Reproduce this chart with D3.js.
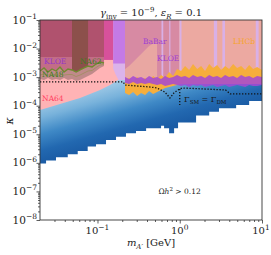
<!DOCTYPE html>
<html>
<head>
<meta charset="utf-8">
<script src="https://cdn.jsdelivr.net/npm/d3@7"></script>
<style>
  body { margin: 0; background: #fff; }
  text { font-family: "DejaVu Serif", serif; }
</style>
</head>
<body>
<svg id="chart" width="271" height="255"></svg>
<script>
// ---- data (mass in GeV, kappa) ----
const kTop = 0.1;

// relic region: lower edge is a staircase, upper edge hidden under the limits
const relicMass  = [0.02, 0.0237, 0.0313, 0.0435, 0.0575, 0.076, 0.096, 0.127, 0.168, 0.222, 0.294, 0.39, 0.593, 0.645, 0.742, 0.854, 0.954, 1.58, 2.28, 3.0, 4.85, 6.98, 10];
const relicFloor = [9.5e-7, 1.2e-6, 1.56e-6, 2.0e-6, 2.6e-6, 3.7e-6, 4.5e-6, 6.3e-6, 8.2e-6, 1.08e-5, 1.3e-5, 1.62e-5, 2.0e-5, 1.62e-5, 1.08e-5, 1.62e-5, 2.6e-5, 4.5e-5, 6.2e-5, 8.1e-5, 1.06e-4, 1.46e-4, 1.46e-4];
const relicCeil  = 1e-3;

// NA64 lower bound
const na64Mass  = [0.02, 0.0265, 0.035, 0.0463, 0.0613, 0.0811, 0.1074, 0.142, 0.178, 0.2];
const na64Bound = [7.1e-5, 9.0e-5, 1.15e-4, 1.46e-4, 1.86e-4, 2.57e-4, 3.55e-4, 5.3e-4, 7.9e-4, 9.3e-4];

// NA48 / NA62 noisy edge (low masses)
const leftMass   = [0.02, 0.0224, 0.025, 0.028, 0.0313, 0.035, 0.0392, 0.0438, 0.049, 0.0549, 0.0614, 0.0686, 0.0768, 0.0859, 0.0961, 0.1075, 0.12];
const oliveTop   = [1.64e-3, 2.09e-3, 1.51e-3, 1.93e-3, 1.64e-3, 2.26e-3, 1.51e-3, 1.93e-3, 1.78e-3, 1.51e-3, 1.78e-3, 2.09e-3, 2.45e-3, 2.26e-3, 2.88e-3, 3.39e-3, 3.13e-3];
const oliveBot   = [8.6e-4, 7.9e-4, 9.3e-4, 7.9e-4, 8.6e-4, 7.9e-4, 9.3e-4, 7.9e-4, 8.6e-4, 7.3e-4, 7.9e-4, 9.3e-4, 1.1e-3, 1.29e-3, 1.64e-3, 2.09e-3, 2.45e-3];
const kloeFloor  = 5.1e-3;
const na62Range  = [8, 13];

// columns in the 0.1 - 0.2 GeV window
const pinkCol    = [0.12, 0.155];
const pinkFloor  = 4.0e-3;
const violetCol  = [0.155, 0.216];
const violetFloor = 3.0e-3;
const lavender   = [[0.155, 3.4e-3], [0.216, 3.4e-3], [0.216, 8.0e-4], [0.18, 8.0e-4], [0.165, 1.3e-3], [0.155, 2.0e-3]];

// BaBar curve
const babarMass  = [0.216, 0.242, 0.271, 0.303, 0.339, 0.379, 0.424, 0.474, 0.53];
const babarBound = [1.93e-3, 2.45e-3, 3.39e-3, 4.7e-3, 6.4e-3, 8.9e-3, 1.23e-2, 1.5e-2, 1.57e-2];
const limitFloor = 7.9e-4;
const lhcbGaps   = [[0.6, 0.63], [0.745, 0.77], [1.0, 1.05], [2.6, 2.85], [3.3, 3.55], [8.4, 9.1]];

// noisy LHCb / KLOE edges above the relic region
const rightMass  = [0.216, 0.242, 0.271, 0.303, 0.339, 0.379, 0.424, 0.474, 0.53, 0.593, 0.663, 0.742, 0.83, 0.928, 1.04, 1.16, 1.3, 1.45, 1.63, 1.82, 2.03, 2.28, 2.54, 2.85, 3.18, 3.56, 3.98, 4.46, 4.98, 5.58, 6.24, 6.98, 7.8, 8.73, 10];
const orangeTop  = [7.9e-4, 9.3e-4, 7.3e-4, 1.01e-3, 7.9e-4, 9.3e-4, 6.8e-4, 1.1e-3, 8.6e-4, 1.19e-3, 9.3e-4, 1.51e-3, 1.1e-3, 1.93e-3, 1.64e-3, 2.45e-3, 1.78e-3, 2.88e-3, 1.93e-3, 2.45e-3, 1.64e-3, 2.88e-3, 2.09e-3, 2.66e-3, 1.78e-3, 2.45e-3, 1.93e-3, 2.88e-3, 2.09e-3, 2.45e-3, 1.78e-3, 2.66e-3, 1.93e-3, 2.26e-3, 1.78e-3];
const orangeBot  = [2.79e-4, 2.37e-4, 3.02e-4, 2.19e-4, 2.79e-4, 2.37e-4, 3.27e-4, 2.57e-4, 3.02e-4, 3.55e-4, 4.17e-4, 4.5e-4, 4.9e-4, 5.3e-4, 5.75e-4, 5.75e-4, 5.75e-4, 5.75e-4, 5.75e-4, 5.75e-4, 5.75e-4, 5.75e-4, 5.75e-4, 5.75e-4, 5.75e-4, 5.75e-4, 5.75e-4, 5.75e-4, 5.75e-4, 5.75e-4, 5.75e-4, 5.75e-4, 5.75e-4, 5.75e-4, 5.75e-4];
const purpleTop  = [1.01e-3, 8.6e-4, 1.1e-3, 9.3e-4, 1.01e-3, 8.6e-4, 1.1e-3, 9.3e-4, 1.01e-3, 8.6e-4, 1.1e-3, 9.3e-4, 1.01e-3, 1.19e-3, 1.01e-3, 1.1e-3, 9.3e-4, 1.19e-3, 1.01e-3, 1.1e-3, 9.3e-4, 1.19e-3, 1.01e-3, 1.1e-3, 9.3e-4, 1.19e-3, 1.01e-3, 1.1e-3, 9.3e-4, 1.19e-3, 1.01e-3, 1.1e-3, 9.3e-4, 1.1e-3, 1.01e-3];
const purpleBot  = [6.2e-4, 5.75e-4, 6.8e-4, 5.75e-4, 6.2e-4, 5.75e-4, 6.2e-4, 5.75e-4, 5.3e-4, 5.75e-4, 4.9e-4, 5.3e-4, 5.75e-4, 5.3e-4, 4.9e-4, 5.3e-4, 4.5e-4, 5.3e-4, 4.9e-4, 5.3e-4, 4.5e-4, 4.9e-4, 5.3e-4, 4.5e-4, 4.9e-4, 5.3e-4, 4.5e-4, 4.9e-4, 5.3e-4, 4.9e-4, 4.5e-4, 5.3e-4, 4.9e-4, 4.9e-4, 5.3e-4];

// Gamma_SM = Gamma_DM line
const gammaMass  = [0.02, 0.205, 0.216, 0.44, 0.53, 0.66, 0.76, 0.85, 0.95, 1.07, 2.0, 3.6, 4.1, 10];
const gammaKappa = [6.8e-4, 6.8e-4, 5.3e-4, 4.5e-4, 4.17e-4, 3.0e-4, 1.86e-4, 2.8e-4, 3.55e-4, 4.17e-4, 3.85e-4, 3.55e-4, 2.6e-4, 2.6e-4];
const gammaDrop  = [[1.0, 3.85e-4], [1.0, 1.06e-4]];

const yTickExps = [-8, -7, -6, -5, -4, -3, -2, -1];
const xTickExps = [-1, 0, 1];

const labels = [
  { text: "KLOE",  m: 0.0224, k: 3.0e-3,  color: "#9437c9" },
  { text: "NA62",  m: 0.0613, k: 3.0e-3,  color: "#3c7d20" },
  { text: "NA48",  m: 0.0212, k: 1.05e-3, color: "#3c7d20" },
  { text: "NA64",  m: 0.0212, k: 1.41e-4, color: "#ff3d5f" },
  { text: "BaBar", m: 0.357,  k: 1.5e-2,  color: "#9d3fd2" },
  { text: "KLOE",  m: 0.53,   k: 3.8e-3,  color: "#9d3fd2" },
  { text: "LHCb",  m: 4.44,   k: 1.5e-2,  color: "#f7a52c" }
];

// ---- chart ----
const svg = d3.select("#chart");
const x = d3.scaleLog().domain([0.02, 10]).range([40, 262]);
const y = d3.scaleLog().domain([1e-8, 1e-1]).range([220, 20]);

const at = (v, i) => Array.isArray(v) ? v[i] : v;
const band = (ms, upper, lower, curve) => d3.area()
  .curve(curve || d3.curveLinear)
  .x(m => x(m))
  .y0((m, i) => y(at(lower, i)))
  .y1((m, i) => y(at(upper, i)))(ms);
const edge = d3.line().x(d => x(d[0])).y(d => y(d[1]));

const defs = svg.append("defs");
defs.append("clipPath").attr("id", "plot-clip")
  .append("rect")
  .attr("x", x.range()[0]).attr("y", y.range()[1])
  .attr("width", x.range()[1] - x.range()[0])
  .attr("height", y.range()[0] - y.range()[1]);

// gradient runs perpendicular to the staircase edge
const p0 = [x(relicMass[0]), y(relicFloor[0])];
const p1 = [x(relicMass[relicMass.length - 1]), y(relicFloor[relicFloor.length - 1])];
const len = Math.hypot(p1[0] - p0[0], p1[1] - p0[1]);
const nrm = [(p1[1] - p0[1]) / len, -(p1[0] - p0[0]) / len];
const grad = defs.append("linearGradient").attr("id", "relic")
  .attr("gradientUnits", "userSpaceOnUse")
  .attr("x1", p0[0]).attr("y1", p0[1])
  .attr("x2", p0[0] + nrm[0] * 80).attr("y2", p0[1] + nrm[1] * 80);
[[0, "#1b5ca5"], [0.15, "#2268b0"], [0.35, "#3f89c6"], [0.55, "#78b2db"], [0.75, "#a5cde8"], [1, "#c6e0f1"]]
  .forEach(s => grad.append("stop").attr("offset", s[0]).attr("stop-color", s[1]));

const plot = svg.append("g").attr("clip-path", "url(#plot-clip)");

plot.append("path").attr("d", band(relicMass, relicCeil, relicFloor, d3.curveStepAfter)).attr("fill", "url(#relic)");
plot.append("path").attr("d", band(na64Mass, kTop, na64Bound)).attr("fill", "#ffb3b5");
plot.append("path").attr("d", band(leftMass, kTop, oliveTop)).attr("fill", "#c26d86");
plot.append("path").attr("d", band([0.02, 0.12], kTop, kloeFloor)).attr("fill", "#b0526e");
plot.append("path")
  .attr("d", band(leftMass.slice(...na62Range), kTop, oliveTop.slice(...na62Range)))
  .attr("fill", "#8c504b");
plot.append("path").attr("d", band(leftMass, oliveTop, oliveBot)).attr("fill", "#c08a8a");
plot.append("path")
  .attr("d", edge(leftMass.map((m, i) => [m, oliveTop[i]])))
  .attr("fill", "none").attr("stroke", "#6f8a2e").attr("stroke-width", 1.4);
plot.append("path")
  .attr("d", edge(leftMass.map((m, i) => [m, Math.sqrt(oliveTop[i] * oliveBot[i])])))
  .attr("fill", "none").attr("stroke", "#8f8f4a").attr("stroke-width", 0.8).attr("opacity", 0.7);
plot.append("path").attr("d", band(pinkCol, kTop, pinkFloor)).attr("fill", "#d7519b");
plot.append("path")
  .attr("d", edge(lavender) + "Z")
  .attr("fill", "#dbb3ea");
plot.append("path").attr("d", band(violetCol, kTop, violetFloor)).attr("fill", "#c47ae6");
plot.append("path").attr("d", band([0.216, 1.0], kTop, limitFloor)).attr("fill", "#d78aa3");
plot.append("path").attr("d", band(babarMass, babarBound, limitFloor)).attr("fill", "#e9a7a2");
plot.append("path").attr("d", band([1.0, 10], kTop, limitFloor)).attr("fill", "#eca9a1");
plot.selectAll(".gap").data(lhcbGaps).join("path")
  .attr("d", g => band(g, kTop, limitFloor))
  .attr("fill", "#d9b0e6");
plot.append("path").attr("d", band(rightMass, orangeTop, orangeBot)).attr("fill", "#f6ae3c");
plot.append("path").attr("d", band(rightMass, purpleTop, purpleBot))
  .attr("fill", "#a548d4").attr("opacity", 0.85);

plot.selectAll(".gamma").data([gammaMass.map((m, i) => [m, gammaKappa[i]]), gammaDrop]).join("path")
  .attr("d", edge)
  .attr("fill", "none").attr("stroke", "#111").attr("stroke-width", 1.3)
  .attr("stroke-dasharray", "1.3,1.7");

// ---- axes ----
const decade = (lo, hi) => d3.range(lo, hi).flatMap(e => d3.range(2, 10).map(k => k * Math.pow(10, e)));
const yMinor = decade(-8, -1);
const xMinor = decade(-2, 1).filter(v => v > 0.02 && v < 10);

function drawAxis(axis, pos) {
  const g = svg.append("g").attr("transform", pos).call(axis);
  g.select(".domain").remove();
  g.selectAll("line").attr("stroke", "#333").attr("stroke-width", 0.8);
  return g;
}
drawAxis(d3.axisLeft(y).tickValues(yTickExps.map(e => Math.pow(10, e))).tickSize(3.5).tickFormat(""), `translate(${x.range()[0]},0)`);
drawAxis(d3.axisLeft(y).tickValues(yMinor).tickSize(2).tickFormat(""), `translate(${x.range()[0]},0)`);
drawAxis(d3.axisBottom(x).tickValues(xTickExps.map(e => Math.pow(10, e))).tickSize(3.5).tickFormat(""), `translate(0,${y.range()[0]})`);
drawAxis(d3.axisBottom(x).tickValues(xMinor).tickSize(2).tickFormat(""), `translate(0,${y.range()[0]})`);

svg.append("rect")
  .attr("x", x.range()[0]).attr("y", y.range()[1])
  .attr("width", x.range()[1] - x.range()[0])
  .attr("height", y.range()[0] - y.range()[1])
  .attr("fill", "none").attr("stroke", "#333").attr("stroke-width", 0.9);

function powerLabel(sel, e) {
  sel.append("tspan").text("10");
  sel.append("tspan").attr("dy", -4.5).attr("font-size", 7.5).text((e < 0 ? "\u2212" : "") + Math.abs(e));
}
yTickExps.forEach(e => {
  const t = svg.append("text").attr("x", 37).attr("y", y(Math.pow(10, e)) + 3.5)
    .attr("text-anchor", "end").attr("font-size", 10.5).attr("fill", "#222");
  powerLabel(t, e);
});
xTickExps.forEach(e => {
  const t = svg.append("text").attr("x", Math.min(x(Math.pow(10, e)), 261)).attr("y", 234)
    .attr("text-anchor", "middle").attr("font-size", 10).attr("fill", "#222");
  powerLabel(t, e);
});

// axis titles
const xl = svg.append("text").attr("x", 151).attr("y", 246).attr("text-anchor", "middle")
  .attr("font-size", 10).attr("fill", "#222");
xl.append("tspan").attr("font-style", "italic").text("m");
xl.append("tspan").attr("font-style", "italic").attr("font-size", 7).attr("dy", 2.5).text("A\u2032");
xl.append("tspan").attr("dy", -2.5).text(" [GeV]");

svg.append("text").attr("transform", "translate(13,121) rotate(-90)")
  .attr("text-anchor", "middle").attr("font-size", 11).attr("font-style", "italic")
  .attr("fill", "#222").text("\u03ba");

const ttl = svg.append("text").attr("x", 151).attr("y", 16).attr("text-anchor", "middle")
  .attr("font-size", 10).attr("fill", "#222");
ttl.append("tspan").attr("font-style", "italic").text("\u03b3");
ttl.append("tspan").attr("font-size", 7).attr("dy", 2.5).text("inv");
ttl.append("tspan").attr("dy", -2.5).text(" = 10");
ttl.append("tspan").attr("font-size", 7).attr("dy", -4).text("\u22129");
ttl.append("tspan").attr("dy", 4).text(", ");
ttl.append("tspan").attr("font-style", "italic").text("\u03b5");
ttl.append("tspan").attr("font-style", "italic").attr("font-size", 7).attr("dy", 2.5).text("R");
ttl.append("tspan").attr("dy", -2.5).text(" = 0.1");

// region labels
svg.selectAll(".lbl").data(labels).join("text")
  .attr("x", d => x(d.m)).attr("y", d => y(d.k))
  .attr("font-size", 7.5).attr("fill", d => d.color)
  .text(d => d.text);

const gl = svg.append("text").attr("x", x(1.13)).attr("y", y(1.35e-4))
  .attr("font-size", 8).attr("fill", "#1a1a1a");
gl.append("tspan").text("\u0393");
gl.append("tspan").attr("font-size", 5.5).attr("dy", 2).text("SM");
gl.append("tspan").attr("dy", -2).text(" = \u0393");
gl.append("tspan").attr("font-size", 5.5).attr("dy", 2).text("DM");

const om = svg.append("text").attr("x", x(0.55)).attr("y", y(8.1e-8))
  .attr("font-size", 7.5).attr("fill", "#1a1a1a");
om.append("tspan").text("\u03a9");
om.append("tspan").attr("font-style", "italic").text("h");
om.append("tspan").attr("font-size", 5.5).attr("dy", -3).text("2");
om.append("tspan").attr("dy", 3).text(" > 0.12");
</script>
</body>
</html>
